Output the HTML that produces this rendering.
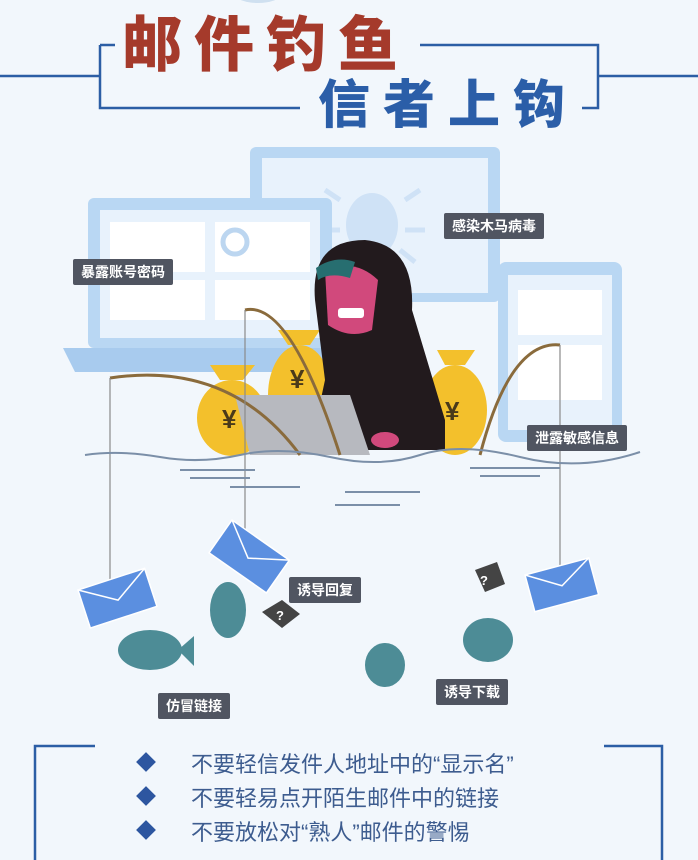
<!DOCTYPE html>
<html><head><meta charset="utf-8"><style>
body{margin:0;width:698px;height:860px;background:#f2f7fc;overflow:hidden;position:relative;font-family:"Liberation Sans","Noto Sans CJK SC",sans-serif}
.t{position:absolute;font-weight:900;line-height:1;white-space:nowrap}
.lab{position:absolute;background:#505561;color:#fff;font-size:14px;font-weight:bold;padding:0 8px;height:26px;line-height:26px;border-radius:2px}
.li{position:absolute;left:191px;font-size:22px;color:#3d5c8f;white-space:nowrap}
.d{position:absolute;left:139px;width:14px;height:14px;background:#2d56a0;transform:rotate(45deg)}
</style></head><body>
<svg width="698" height="860" style="position:absolute;left:0;top:0">
<g stroke="#2c5ea5" stroke-width="2.5" fill="none">
<path d="M0 76H100M100 45H115M100 45V108H300M420 45H598V108H582M598 76H698"/>
<path d="M35 860V746H95M604 746H662V860"/>
</g>
<ellipse cx="258" cy="-5" rx="22" ry="8" fill="#cfe0f0"/>
<!-- middle monitor -->
<rect x="250" y="147" width="250" height="155" rx="6" fill="#b9d7f3"/>
<rect x="262" y="158" width="226" height="135" fill="#e8f2fc"/>
<ellipse cx="372" cy="225" rx="26" ry="32" fill="#cfe2f6"/>
<path d="M340 200l-15-10M405 200l15-10M340 230h-20M405 230h20M345 250l-15 12M400 250l15 12" stroke="#cfe2f6" stroke-width="5"/>
<!-- laptop left -->
<rect x="88" y="198" width="244" height="150" rx="6" fill="#b9d7f3"/>
<rect x="100" y="210" width="220" height="128" fill="#e8f2fc"/>
<rect x="110" y="222" width="95" height="50" fill="#fff"/>
<rect x="215" y="222" width="95" height="50" fill="#fff"/>
<circle cx="235" cy="242" r="12" fill="none" stroke="#bcd6f0" stroke-width="5"/>
<rect x="110" y="280" width="95" height="40" fill="#fff"/>
<rect x="215" y="280" width="95" height="40" fill="#fff"/>
<path d="M63 348H345L335 372H75Z" fill="#a8cbee"/>
<!-- tablet -->
<rect x="498" y="262" width="124" height="180" rx="8" fill="#b9d7f3"/>
<rect x="508" y="275" width="104" height="155" fill="#e8f2fc"/>
<rect x="518" y="290" width="84" height="45" fill="#fff"/>
<rect x="518" y="345" width="84" height="55" fill="#fff"/>
<!-- money bags -->
<g fill="#f3c02c">
<ellipse cx="232" cy="418" rx="35" ry="38"/><path d="M220 380l-10-15h45l-12 15z"/>
<ellipse cx="300" cy="395" rx="32" ry="50"/><path d="M288 345l-10-15h42l-10 15z"/>
<ellipse cx="455" cy="410" rx="32" ry="45"/><path d="M445 365l-8-15h38l-10 15z"/>
</g>
<g fill="#4a3a1a" font-size="26" font-weight="bold"><text x="222" y="428">¥</text><text x="290" y="388">¥</text><text x="445" y="420">¥</text></g>
<!-- hacker -->
<path d="M315 300Q310 240 365 240Q415 245 412 310L445 420L445 450H310L325 380Z" fill="#221a1d"/>
<path d="M325 270Q355 258 378 280L372 330Q350 340 328 325Z" fill="#d1497c"/>
<path d="M316 268Q335 255 355 262L350 278Q330 272 318 280Z" fill="#276e70"/>
<rect x="338" y="308" width="26" height="10" rx="3" fill="#fff"/>
<path d="M235 395H350L370 455H250Z" fill="#b7b9bf"/>
<ellipse cx="385" cy="440" rx="14" ry="8" fill="#d1497c"/>
<!-- rods -->
<g stroke="#8a6b3c" stroke-width="3" fill="none">
<path d="M245 310Q290 300 340 455"/><path d="M110 378Q230 360 300 455"/><path d="M480 455Q510 340 560 345"/>
</g>
<g stroke="#8a8a8a" stroke-width="1.2"><path d="M110 378V590M245 310V530M560 345V570"/></g>
<!-- water -->
<g stroke="#7b8fa8" stroke-width="2" fill="none">
<path d="M85 455Q120 450 160 457T240 455T330 457T420 455T520 457T640 452"/>
<path d="M180 470H255M190 478H250M470 468H560M480 476H540M345 492H420M335 505H400M230 487H300"/>
</g>
<!-- envelopes -->
<g fill="#5b8fe0" stroke="#fff" stroke-width="1.5">
<g transform="translate(78,590) rotate(-18)"><rect width="70" height="40"/><path d="M0 0L35 22L70 0" fill="none"/></g>
<g transform="translate(232,520) rotate(35)"><rect width="70" height="40"/><path d="M0 0L35 22L70 0" fill="none"/></g>
<g transform="translate(525,575) rotate(-15)"><rect width="66" height="38"/><path d="M0 0L33 20L66 0" fill="none"/></g>
</g>
<!-- fish -->
<g fill="#4d8c96">
<ellipse cx="150" cy="650" rx="32" ry="20"/><path d="M178 650l16-14v30z"/>
<ellipse cx="228" cy="610" rx="18" ry="28"/><ellipse cx="385" cy="665" rx="20" ry="22"/>
<ellipse cx="488" cy="640" rx="25" ry="22"/>
</g>
<g fill="#444"><path d="M262 612l20-12 18 14-18 14z"/><path d="M475 570l22-8 8 22-20 8z"/></g>
<g fill="#fff" font-size="13" font-weight="bold"><text x="276" y="620">?</text><text x="480" y="585">?</text></g>
</svg>
<div class="t" style="left:122px;top:16px;font-size:60px;letter-spacing:12px;color:#a53a2b">邮件钓鱼</div>
<div class="t" style="left:318px;top:80px;font-size:52px;letter-spacing:13px;color:#2b5ea8">信者上钩</div>
<div class="lab" style="left:73px;top:259px">暴露账号密码</div>
<div class="lab" style="left:444px;top:213px">感染木马病毒</div>
<div class="lab" style="left:527px;top:425px">泄露敏感信息</div>
<div class="lab" style="left:289px;top:577px">诱导回复</div>
<div class="lab" style="left:158px;top:693px">仿冒链接</div>
<div class="lab" style="left:436px;top:679px">诱导下载</div>
<div class="d" style="top:755px"></div><div class="d" style="top:789px"></div><div class="d" style="top:823px"></div>
<div class="li" style="top:747px">不要轻信发件人地址中的“显示名”</div>
<div class="li" style="top:781px">不要轻易点开陌生邮件中的链接</div>
<div class="li" style="top:815px">不要放松对“熟人”邮件的警惕</div>
</body></html>
